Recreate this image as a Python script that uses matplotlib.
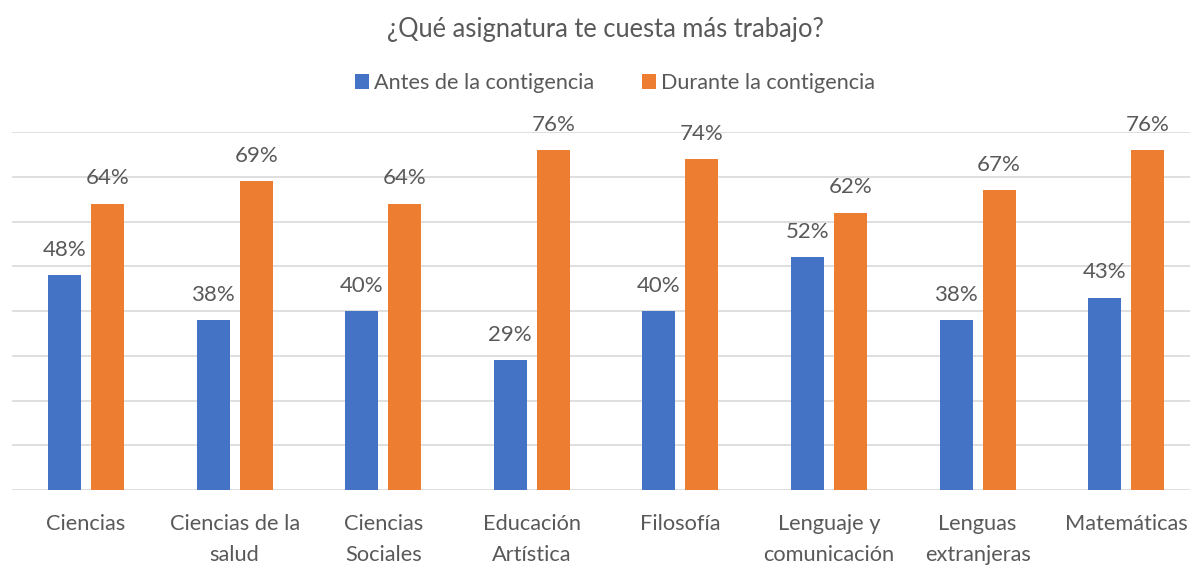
import matplotlib
matplotlib.use("Agg")
import matplotlib.pyplot as plt
import numpy as np

categories = ["Ciencias", "Ciencias de la\nsalud", "Ciencias\nSociales", "Educación\nArtística",
              "Filosofía", "Lenguaje y\ncomunicación", "Lenguas\nextranjeras", "Matemáticas"]
antes = [48, 38, 40, 29, 40, 52, 38, 43]
durante = [64, 69, 64, 76, 74, 62, 67, 76]
series_names = ["Antes de la contigencia", "Durante la contigencia"]
title = "¿Qué asignatura te cuesta más trabajo?"

BLUE = "#4472C4"
ORANGE = "#ED7D31"
TEXT = "#595959"
GRID = "#D9D9D9"

plt.rcParams['font.family'] = ['Lato', 'DejaVu Sans']

fig = plt.figure(figsize=(11.9, 5.65), dpi=100)
W, H = 1190, 565
left_px, right_px = 11.7, 1200.5
bot_px, top_px = 490, 132
ax = fig.add_axes([left_px / W, 1 - bot_px / H, (right_px - left_px) / W, (bot_px - top_px) / H])

x = np.arange(len(categories))
bw = 0.222
off = 0.145
b1 = ax.bar(x - off, antes, bw, color=BLUE, zorder=3, label=series_names[0])
b2 = ax.bar(x + off, durante, bw, color=ORANGE, zorder=3, label=series_names[1])

for rects, vals in ((b1, antes), (b2, durante)):
    for r, v in zip(rects, vals):
        ax.annotate(f"{v}%", (r.get_x() + r.get_width() / 2, v), xytext=(0, 11),
                    textcoords="offset points", ha="center", va="bottom",
                    fontsize=16, color=TEXT)

ax.set_xlim(-0.5, len(categories) - 0.5)
ax.set_ylim(0, 80)
ax.set_yticks(np.arange(0, 81, 10))
ax.yaxis.grid(True, color=GRID, linewidth=1.2, zorder=0)
ax.tick_params(axis='y', left=False, labelleft=False)
ax.tick_params(axis='x', length=0, pad=17, labelsize=15.7, labelcolor=TEXT)
ax.set_xticks(x)
ax.set_xticklabels(categories, linespacing=1.72, va="top")
for s in ax.spines.values():
    s.set_visible(False)

fig.text(605 / W, 1 - 30 / H, title, ha="center", va="center", fontsize=18.4, color=TEXT)

handles = [b1, b2]
leg = fig.legend(handles, series_names, loc="center", bbox_to_anchor=(615 / W, 1 - 83 / H),
                 ncol=2, frameon=False, fontsize=15.6, labelcolor=TEXT,
                 handlelength=0.65, handleheight=0.65, handletextpad=0.25, columnspacing=2.2)

fig.savefig("out.png", dpi=100)
